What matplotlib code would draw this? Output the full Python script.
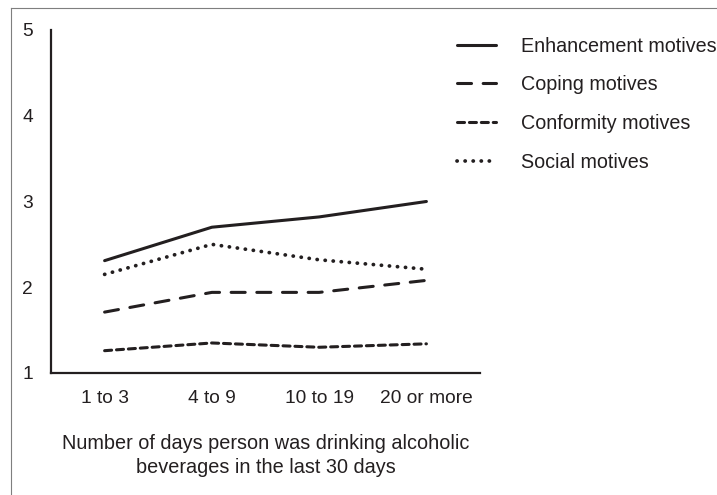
import matplotlib.pyplot as plt
from matplotlib.lines import Line2D

plt.rcParams['font.family'] = ['Liberation Sans', 'DejaVu Sans']

categories = ['1 to 3', '4 to 9', '10 to 19', '20 or more']
enhancement = [2.31, 2.70, 2.82, 3.00]
coping = [1.71, 1.94, 1.94, 2.08]
conformity = [1.26, 1.35, 1.30, 1.34]
social = [2.15, 2.50, 2.32, 2.21]
y_ticks = [1, 2, 3, 4, 5]

ink = '#231f20'
fs = 13.8

fig = plt.figure(figsize=(7.17, 4.95), dpi=100)
ax = fig.add_axes([0.0711, 0.2465, 0.5984, 0.6929])

x = range(len(categories))
lw = 2.2
ax.plot(x, enhancement, color=ink, lw=lw, solid_capstyle='round',
        label='Enhancement motives')
ax.plot(x, coping, color=ink, lw=lw, linestyle=(0, (4.6, 3.8)),
        dash_capstyle='round', label='Coping motives')
ax.plot(x, conformity, color=ink, lw=lw, linestyle=(0, (2.3, 1.6)),
        dash_capstyle='round', label='Conformity motives')
ax.plot(x, social, color=ink, lw=2.7, linestyle=(0, (0.05, 2.1)),
        dash_capstyle='round', label='Social motives')

ax.set_xlim(-0.5, 3.5)
ax.set_ylim(1, 5)
ax.set_xticks(list(x))
ax.set_xticklabels(categories)
ax.set_yticks(y_ticks)
ax.tick_params(axis='both', length=0, labelsize=fs, colors=ink)
ax.tick_params(axis='y', pad=13)
ax.tick_params(axis='x', pad=12)
for s in ['top', 'right']:
    ax.spines[s].set_visible(False)
for s in ['left', 'bottom']:
    ax.spines[s].set_color(ink)
    ax.spines[s].set_linewidth(1.6)

ax.set_xlabel('Number of days person was drinking alcoholic\nbeverages in the last 30 days',
              fontsize=14.3, color=ink, labelpad=20, linespacing=1.3)

ax.legend(loc='upper left', bbox_to_anchor=(0.612, 0.962), bbox_transform=fig.transFigure,
          frameon=False, fontsize=14.2, handlelength=2.0, handletextpad=1.25,
          labelspacing=1.0, labelcolor=ink)

# thin frame around the figure
fig.add_artist(Line2D([11 / 717, 11 / 717], [0, 1 - 8 / 495], color='#7f7f7f', lw=0.8,
                      transform=fig.transFigure))
fig.add_artist(Line2D([11 / 717, 1], [1 - 8 / 495, 1 - 8 / 495], color='#7f7f7f', lw=0.8,
                      transform=fig.transFigure))

fig.savefig('out.png', dpi=100)
